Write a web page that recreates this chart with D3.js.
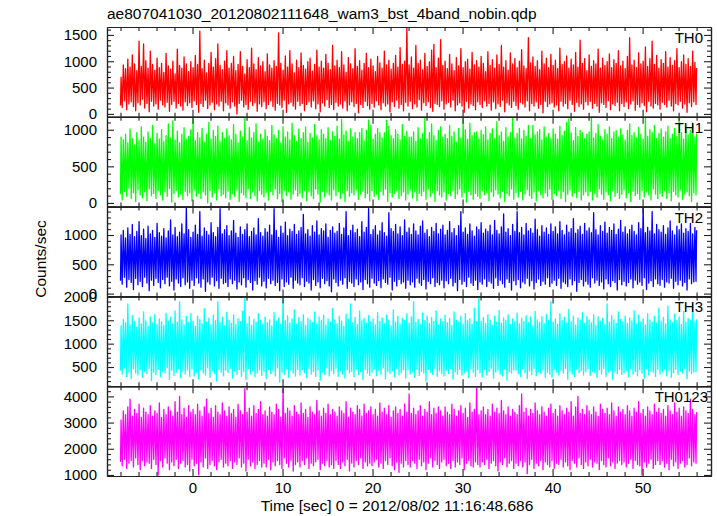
<!DOCTYPE html>
<html><head><meta charset="utf-8">
<script src="https://cdn.jsdelivr.net/npm/d3@7"></script>
<style>body{margin:0;background:#fff}text{font-family:"Liberation Sans",Arial,Helvetica,sans-serif;fill:#000}</style>
</head><body><svg id="c" width="717" height="516"></svg>
<script>
const title = "ae807041030_20120802111648_wam3_bst_4band_nobin.qdp";
const xLabel = "Time [sec] 0 = 2012/08/02 11:16:48.686";
const yLabel = "Counts/sec";
// time grid of the envelope bins (seconds)
const tStart = -8, tEnd = 56;
const xDomain = [-9.5, 57.6];
const xMajorTicks = [0, 10, 20, 30, 40, 50];
const xMinorStep = 2;
const panelNames = ["TH0", "TH1", "TH2", "TH3", "TH0123"];
const panelColors = ["#ff0000", "#00ff00", "#0000ff", "#00ffff", "#ff00ff"];
const yDomains = [[-55, 1650], [-50, 1177], [-48, 1485], [90, 2010], [960, 4390]];
const yMajorTicks = [[0, 500, 1000, 1500], [0, 500, 1000], [0, 500, 1000], [500, 1000, 1500, 2000], [1000, 2000, 3000, 4000]];
const yMinorSteps = [100, 100, 100, 100, 200];

// per-bin (0.25 s) maximum and minimum of each light curve
const th0Hi = [
700,930,860,1040,890,1120,950,820,1380,900,1330,1010,870,1190,940,830,
1060,880,960,790,1150,910,850,1000,760,1230,920,870,1080,950,800,990,
880,1110,940,1570,860,1020,780,960,1170,890,1050,1330,920,840,1000,1200,
870,960,1090,820,940,1180,900,760,1030,880,1250,950,840,1070,910,990,
800,1140,930,870,1010,900,1540,960,830,1100,890,1200,950,780,1020,880,
1160,920,850,990,1060,810,940,1210,890,1000,870,1130,960,840,1300,910,
1020,880,1180,930,790,1070,950,860,1240,900,1010,830,960,1150,880,1040,
910,800,1090,970,870,1190,930,1020,850,960,1110,890,1260,940,1000,1650,
930,1080,870,1300,960,1020,840,1150,900,990,1210,1320,880,1060,1410,920,
1000,860,1130,950,820,1070,910,1240,880,990,1040,850,1170,930,1010,890,
1090,960,800,1180,920,1030,870,1120,940,1300,890,1010,830,1160,950,1050,
880,1000,1220,910,860,1450,970,1080,900,1010,840,1190,950,1060,880,1130,
920,1020,860,1250,940,990,1100,870,1040,930,1170,890,1400,960,1050,820,
1120,900,1010,950,1230,870,1060,920,990,1140,880,1030,960,1200,910,1000,
860,1090,1450,930,1020,880,1160,950,1000,1270,900,1050,1380,940,1110,870,
1030,960,1180,890,1070,920,1010,1240,880,990,1120,940,1050,900,1190,980,
870];
const th0Lo = [
160,120,250,80,190,230,140,60,210,170,280,110,200,40,240,150,
190,90,260,170,130,220,50,180,240,110,200,150,70,230,160,210,
120,250,180,30,200,140,260,100,170,220,80,190,150,240,60,210,
170,110,230,150,0,200,260,130,180,90,240,160,210,50,190,140,
230,100,180,250,140,70,200,170,120,260,30,190,220,150,90,240,
160,200,60,180,230,130,250,100,190,40,210,150,270,120,180,80,
220,150,190,110,250,60,170,230,140,200,20,180,120,240,160,90,
200,130,250,170,80,210,150,190,40,230,140,260,110,180,60,220,
150,240,100,190,130,270,70,210,160,230,120,50,200,180,140,250,
90,190,220,130,260,60,170,210,150,30,240,110,190,160,80,230,
180,120,250,150,200,70,230,100,190,140,260,40,210,170,120,240,
160,90,220,190,130,250,60,200,150,230,110,180,20,240,140,190,
210,130,170,60,240,150,200,100,260,180,50,220,140,190,90,230,
170,240,110,200,150,30,210,180,120,250,80,190,160,220,60,200,
140,230,100,190,250,70,180,130,210,160,40,240,150,110,200,170,
90,220,180,130,260,150,60,200,170,240,110,190,30,210,140,230,
180];
const th1Hi = [
900,860,940,820,1010,880,790,960,850,1040,900,830,970,880,1060,810,
950,870,1000,840,920,1080,890,1120,860,980,820,940,1030,870,910,1000,
1150,850,960,890,1020,830,940,1100,870,990,910,1050,840,960,880,1010,
920,860,1070,940,820,980,900,1160,850,1030,890,960,1080,830,940,870,
1000,910,850,1060,930,880,990,820,1040,900,970,860,1090,920,840,1010,
880,960,1040,830,950,890,1070,920,860,1000,940,880,1030,850,970,910,
1050,870,1140,930,980,840,1010,900,960,880,960,1020,850,990,1130,1060,
870,940,1020,960,890,960,1130,1050,920,880,1000,940,860,1070,910,980,
900,900,970,840,1030,880,950,1160,870,960,1080,920,850,990,1040,900,
940,880,1060,910,970,830,1020,890,1150,1000,870,1090,920,960,970,880,
990,930,1040,860,950,1010,880,1110,920,970,840,1030,900,960,1160,890,
950,1020,870,990,910,1060,880,1060,930,970,1000,860,1040,900,950,880,
1010,940,870,1050,920,980,1100,1150,960,850,1030,910,990,960,880,940,
970,1160,890,950,1070,910,860,1000,940,1040,880,970,990,900,1010,930,
860,990,1080,920,960,890,1030,940,870,1170,910,1000,960,1060,880,950,
1010,900,970,1050,880,940,1020,910,1170,960,870,1040,930,990,1090,900,
950];
const th1Lo = [
120,40,160,90,200,60,140,20,180,110,70,150,30,190,100,130,
60,170,110,40,150,90,200,10,130,170,80,120,50,160,100,140,
30,180,90,130,60,150,110,0,170,80,140,40,190,100,120,70,
160,50,130,90,180,20,140,110,70,190,60,150,100,30,170,120,
80,140,40,160,110,190,60,130,20,170,100,150,50,120,180,90,
130,70,170,30,150,100,60,190,120,10,160,80,140,110,40,180,
100,150,60,130,20,170,90,140,110,180,50,120,160,70,130,30,
170,90,120,50,160,110,190,20,140,80,130,170,60,100,150,40,
120,180,70,150,30,130,100,160,50,190,90,140,20,170,110,80,
150,40,130,100,170,60,120,190,80,140,10,160,110,50,130,90,
60,170,110,140,30,150,90,180,120,70,160,20,130,100,190,50,
140,80,160,40,120,180,100,60,150,30,170,110,70,140,90,190,
50,130,100,170,60,150,20,120,180,90,140,70,160,40,110,150,
100,160,40,130,80,190,120,50,150,110,30,170,90,140,60,120,
180,70,140,20,160,100,130,50,170,80,150,110,40,190,120,60,
130,90,170,60,140,30,160,110,80,180,50,120,150,100,20,140,
110];
const th2Hi = [
1000,1080,950,1120,1010,1180,970,1060,1230,990,1100,940,1150,1020,1080,960,
1200,1040,980,1110,950,1070,1260,1000,1130,970,1050,1190,1020,1480,1090,960,
1050,1170,1010,1400,980,1120,1060,1000,1210,1040,970,1130,1450,1020,1090,1160,
990,1070,1250,1030,960,1140,1010,1090,1190,970,1060,1120,1000,1280,1040,980,
1110,1050,1170,1000,1450,1080,960,1150,1030,1220,990,1100,1060,1180,1010,1070,
1130,1350,1020,1090,980,1160,1050,1240,1000,1110,1070,1190,960,1080,1140,1030,
1060,1200,1010,1120,1400,990,1080,1170,1040,1100,970,1230,1050,1130,1450,1010,
1090,1160,1000,1070,1210,1040,980,1380,1110,1060,1180,1020,1140,990,1260,1050,
1120,1010,1190,1070,1000,1150,1240,1030,1090,970,1130,1060,1200,1020,1100,1170,
1000,1080,1230,1040,1110,990,1160,1400,1050,1120,1010,1190,1070,980,1140,1090,
1210,1030,1100,1060,1170,1000,1250,1080,1020,1140,1360,1050,1110,990,1180,1060,
1400,1040,1130,1000,1200,1070,1110,1030,1270,1090,980,1160,1050,1120,1010,1190,
1060,1140,1020,1230,1080,1000,1170,1050,1110,1280,1030,1090,1150,1010,1200,1070,
1120,1040,1380,1090,1000,1160,1060,1220,1030,1130,1080,1190,1010,1100,1250,1050,
1140,1020,1090,1170,1060,1000,1210,1110,1480,1040,1130,1070,1400,1020,1180,1090,
1050,1160,1010,1120,1240,1070,1000,1150,1090,1190,1030,1110,1060,1200,1020,1130,
1080];
const th2Lo = [
220,160,280,110,240,190,70,260,150,210,120,280,180,50,230,140,
260,190,100,240,170,280,130,210,60,250,180,120,270,150,200,90,
230,140,270,180,110,250,40,200,160,280,130,220,90,260,170,190,
120,250,170,230,80,200,150,270,110,240,190,60,220,160,280,130,
210,100,260,170,230,140,190,50,250,120,200,160,280,90,230,180,
150,270,120,210,180,60,240,140,200,100,260,170,220,130,30,250,
190,130,230,160,270,90,210,180,120,250,150,200,70,240,170,110,
260,180,140,220,100,250,190,160,280,60,210,130,240,170,200,90,
230,150,200,110,260,180,140,240,80,210,170,270,120,190,150,230,
100,220,170,260,130,190,50,240,160,210,120,280,180,140,230,70,
200,160,250,120,210,180,90,270,140,230,170,110,250,190,60,220,
150,240,100,200,170,260,130,220,80,190,250,140,210,160,270,120,
180,230,140,260,90,200,170,120,250,150,220,40,190,240,130,210,
160,110,270,180,230,140,200,80,250,170,120,220,190,60,240,150,
210,130,190,250,100,230,160,200,140,270,70,180,220,120,250,170,
140,240,110,200,180,260,90,210,150,230,130,190,60,250,170,200,
210];
const th3Hi = [
1380,1520,1450,1850,1400,1600,1470,1350,1550,1420,1680,1490,1380,1570,1440,1620,
1410,1530,1470,1390,1650,1480,1560,1420,1700,1460,1900,1510,1400,1580,1450,1640,
1480,1370,1590,1520,1430,1750,1460,1540,1400,1610,1490,1900,1450,1560,1380,1670,
1500,1440,1620,1410,1530,1470,1690,2000,1430,1580,1390,1520,1460,1640,1500,1420,
1570,1450,1510,1380,1660,1480,1550,1420,2000,1490,1600,1440,1530,1720,1410,1560,
1470,1620,1390,1540,1500,1450,1680,1430,1570,1490,1610,1400,1530,1460,1750,1510,
1420,1590,1480,1370,1630,1520,1850,1450,1560,1410,1700,1490,1540,1440,1600,1470,
1530,1400,1660,1480,1550,1430,1610,1500,1380,1720,1460,1580,1420,1540,1490,1640,
1440,1570,1900,1460,1520,1410,1650,1490,1590,1430,1560,1480,1700,1400,1530,1470,
1610,1450,1540,1390,1680,1500,1460,1580,1420,1640,1490,1530,1410,1760,1470,2000,
1480,1560,1430,1620,1500,1390,1590,1460,1710,1440,1550,1490,1620,1410,1530,1470,
1650,1420,1540,1480,1600,1450,1570,1380,1690,1510,1460,1580,1430,1620,1490,1900,
1460,1530,1410,1640,1490,1560,1440,1730,1470,1590,1400,1550,1500,1660,1430,1580,
1510,1450,1620,1390,1570,1480,1540,1410,1850,1460,1600,1500,1440,1680,1520,1470,
1590,1430,1550,1490,1700,1420,1610,1470,1530,1400,1640,1500,1460,1580,1440,1760,
1480,1560,1420,1800,1510,1450,1630,1490,1570,1410,1690,1460,1540,1500,1850,1470,
1520];
const th3Lo = [
420,350,480,300,400,250,460,370,330,440,280,410,360,470,210,390,
340,450,290,400,370,480,230,430,320,390,460,270,410,350,440,300,
460,310,390,240,440,370,330,480,280,420,360,200,450,390,310,430,
380,470,260,410,340,450,300,400,230,470,350,420,290,380,440,320,
400,250,450,360,420,310,480,180,390,340,460,280,430,370,310,450,
330,440,380,270,470,350,410,300,450,220,390,340,480,310,420,360,
470,300,420,350,260,440,380,410,290,460,340,400,230,450,370,320,
390,460,310,430,350,480,240,400,360,420,290,470,330,380,440,260,
440,350,400,280,460,320,410,370,200,450,390,340,470,300,420,360,
310,430,360,470,240,400,350,450,330,380,420,270,460,390,300,440,
370,290,450,330,410,470,260,390,430,350,310,460,220,400,370,440,
430,360,300,460,380,250,420,340,470,310,400,360,440,280,390,350,
280,450,390,330,430,370,470,240,410,350,300,460,380,420,330,400,
460,320,410,380,270,440,350,470,300,390,430,230,400,360,450,340,
380,420,290,460,350,400,310,440,370,260,470,330,410,390,300,450,
350,400,460,310,430,280,380,450,340,410,370,470,250,420,360,390,
400];
const th0123Hi = [
3100,3450,3300,3600,3900,3250,3500,3350,3700,3200,3550,3400,3300,3650,3250,3450,
3350,3750,3200,3500,3300,3600,3450,3250,3800,3400,4000,3300,3550,3200,3650,3400,
3500,3300,3700,3450,3250,3600,3900,3350,3550,3200,3650,3400,3300,3750,3450,3250,
3600,3350,3500,3200,3700,3450,3300,4300,3400,3550,3250,3650,3350,3500,3800,3300,
3450,3250,3600,3400,3300,3700,3500,3200,4300,3350,3550,3450,3250,3650,3400,3300,
3750,3350,3500,3200,3600,3400,3300,3850,3450,3250,3550,3350,3700,3300,3500,3400,
3250,3600,3450,3350,3800,3200,3550,3400,3300,3650,3500,3250,3700,3350,3450,3600,
3300,3500,3250,3750,3400,3550,3300,3650,3200,3450,3600,3350,3500,3250,3700,3400,
4100,3350,3550,3300,3450,3650,3250,3500,3400,3800,3300,3550,3350,3600,3450,3250,
3600,3400,3300,3700,3500,3250,3450,3650,3350,3550,3200,3750,3400,3500,4350,3300,
3450,3600,3300,3500,3250,3700,3400,3550,3350,3850,3450,3300,3600,3250,3500,3400,
3300,3650,4100,3400,3550,3250,3500,3350,3750,3450,3300,3600,3400,3250,3550,3700,
3350,3500,3250,3650,3450,3300,3550,3400,3800,3250,3600,4000,3350,3500,3300,3650,
3450,3300,3600,3400,3250,3700,3500,3350,3550,3300,3750,3450,3250,3600,3400,3500,
3300,3650,3450,3250,3550,3400,3800,3350,3500,3250,3600,3450,3300,3700,3400,3550,
3350,3500,3250,3650,3450,3300,3750,3400,3550,3250,3600,3450,3350,3900,3500,3300,
3400];
const th0123Lo = [
1500,1350,1600,1250,1450,1550,1300,1650,1400,1200,1550,1350,1500,1450,1250,1600,
1400,1000,1550,1300,1650,1450,1200,1500,1350,1600,1250,1450,1550,1300,1400,1150,
1600,1350,1450,1000,1500,1300,1650,1250,1400,1550,1350,1200,1500,1600,1300,1450,
1350,1550,1250,1500,1400,1650,1300,1450,1150,1600,1350,1500,1250,1400,1550,1300,
1450,1300,1600,1200,1500,1350,1550,1400,1250,1650,1450,1300,1550,1150,1400,1500,
1300,1550,1400,1650,1250,1450,1350,1500,1600,1200,1450,1350,1550,1300,1400,1250,
1550,1400,1250,1500,1350,1600,1150,1450,1300,1550,1400,1650,1250,1500,1350,1450,
1350,1500,1600,1300,1450,1250,1550,1400,1650,1350,1200,1500,1100,1450,1300,1550,
1400,1300,1550,1450,1250,1600,1350,1500,1200,1450,1650,1300,1550,1400,1250,1500,
1600,1350,1450,1250,1550,1300,1500,1400,1650,1200,1450,1550,1350,1300,1500,1400,
1300,1500,1400,1600,1250,1450,1550,1350,1150,1500,1400,1650,1300,1450,1550,1250,
1450,1350,1550,1300,1500,1050,1400,1600,1250,1450,1350,1550,1200,1500,1400,1300,
1550,1250,1450,1400,1600,1300,1500,1350,1200,1550,1450,1300,1650,1400,1250,1500,
1350,1600,1300,1500,1450,1200,1550,1400,1300,1650,1350,1500,1250,1450,1550,1400,
1500,1300,1450,1600,1250,1550,1400,1350,1000,1500,1300,1450,1600,1250,1400,1550,
1400,1550,1300,1450,1200,1600,1350,1500,1250,1450,1550,1300,1400,1650,1350,1500,
1450];
const hiList = [th0Hi, th1Hi, th2Hi, th3Hi, th0123Hi];
const loList = [th0Lo, th1Lo, th2Lo, th3Lo, th0123Lo];

const W = 717, H = 516;
const plotLeft = 107, plotRight = 711, plotTop = 27, plotBottom = 476;
const nP = hiList.length;
const ph = (plotBottom - plotTop) / nP;
const FS = 15, FSB = 15.5;
const axisColor = "#222";
const FONT = '"Liberation Sans",Arial,sans-serif';

const svg = d3.select("#c");
svg.append("rect").attr("width", W).attr("height", H).attr("fill", "#fff");

const x = d3.scaleLinear().domain(xDomain).range([plotLeft, plotRight]);
const xMinor = d3.range(-8, 57, xMinorStep).filter(v => !xMajorTicks.includes(v));

function styleAxis(g) {
  g.selectAll("path.domain").attr("stroke", axisColor).attr("stroke-width", 1.2);
  g.selectAll(".tick line").attr("stroke", axisColor).attr("stroke-width", 1.1);
  g.selectAll(".tick text").attr("font-size", FS).attr("font-family", FONT).attr("fill", "#000");
}

hiList.forEach((hi, p) => {
  const lo = loList[p];
  const y0 = plotTop + p * ph, y1 = plotTop + (p + 1) * ph;
  const y = d3.scaleLinear().domain(yDomains[p]).range([y1, y0]);
  const n = hi.length;
  const dt = (tEnd - tStart) / (n - 1);
  // zig-zag through each bin's minimum and maximum, like the dense connected light curve
  const pts = [];
  hi.forEach((h, i) => {
    const t = tStart + i * dt;
    const ta = Math.max(tStart, t - dt / 4), tb = Math.min(tEnd, t + dt / 4);
    pts.push([ta, lo[i]], [tb, h]);
  });

  const clipId = "clip" + p;
  svg.append("clipPath").attr("id", clipId).append("rect")
    .attr("x", plotLeft).attr("y", y0).attr("width", plotRight - plotLeft).attr("height", y1 - y0);

  const line = d3.line().x(d => x(d[0])).y(d => y(d[1]));
  svg.append("path").datum(pts)
    .attr("clip-path", `url(#${clipId})`)
    .attr("fill", "none").attr("stroke", panelColors[p]).attr("stroke-width", 1.3)
    .attr("stroke-linejoin", "round").attr("d", line);

  const [d0, d1] = yDomains[p];
  const minorY = d3.range(Math.ceil(d0 / yMinorSteps[p]) * yMinorSteps[p], d1, yMinorSteps[p])
    .filter(v => !yMajorTicks[p].includes(v));

  const gl = svg.append("g").attr("transform", `translate(${plotLeft},0)`)
    .call(d3.axisLeft(y).tickValues(yMajorTicks[p]).tickSizeInner(-7).tickSizeOuter(0).tickPadding(10).tickFormat(d3.format("d")));
  styleAxis(gl);
  const glm = svg.append("g").attr("transform", `translate(${plotLeft},0)`)
    .call(d3.axisLeft(y).tickValues(minorY).tickSizeInner(-4).tickSizeOuter(0).tickFormat(""));
  styleAxis(glm);
  const gr = svg.append("g").attr("transform", `translate(${plotRight},0)`)
    .call(d3.axisRight(y).tickValues(yMajorTicks[p]).tickSizeInner(-7).tickSizeOuter(0).tickFormat(""));
  styleAxis(gr);
  const grm = svg.append("g").attr("transform", `translate(${plotRight},0)`)
    .call(d3.axisRight(y).tickValues(minorY).tickSizeInner(-4).tickSizeOuter(0).tickFormat(""));
  styleAxis(grm);

  [[y0, "top"], [y1, "bottom"]].forEach(([yy, side]) => {
    const mk = side === "top" ? d3.axisTop : d3.axisBottom;
    const showLabels = side === "bottom" && p === nP - 1;
    const ga = svg.append("g").attr("transform", `translate(0,${yy})`)
      .call(mk(x).tickValues(xMajorTicks).tickSizeInner(-7).tickSizeOuter(0).tickPadding(6)
        .tickFormat(showLabels ? d3.format("d") : ""));
    styleAxis(ga);
    const gm = svg.append("g").attr("transform", `translate(0,${yy})`)
      .call(mk(x).tickValues(xMinor).tickSizeInner(-4).tickSizeOuter(0).tickFormat(""));
    styleAxis(gm);
  });

  svg.append("text").attr("x", p === nP - 1 ? 708 : 703).attr("y", y0 + 16)
    .attr("text-anchor", "end").attr("font-size", FS).text(panelNames[p]);
});

svg.append("text").attr("x", plotLeft).attr("y", 19).attr("font-size", FSB).text(title);
svg.append("text").attr("x", 397).attr("y", 511).attr("text-anchor", "middle").attr("font-size", FSB).text(xLabel);
svg.append("text").attr("transform", "translate(46,259) rotate(-90)").attr("text-anchor", "middle").attr("font-size", FSB).text(yLabel);
</script></body></html>
